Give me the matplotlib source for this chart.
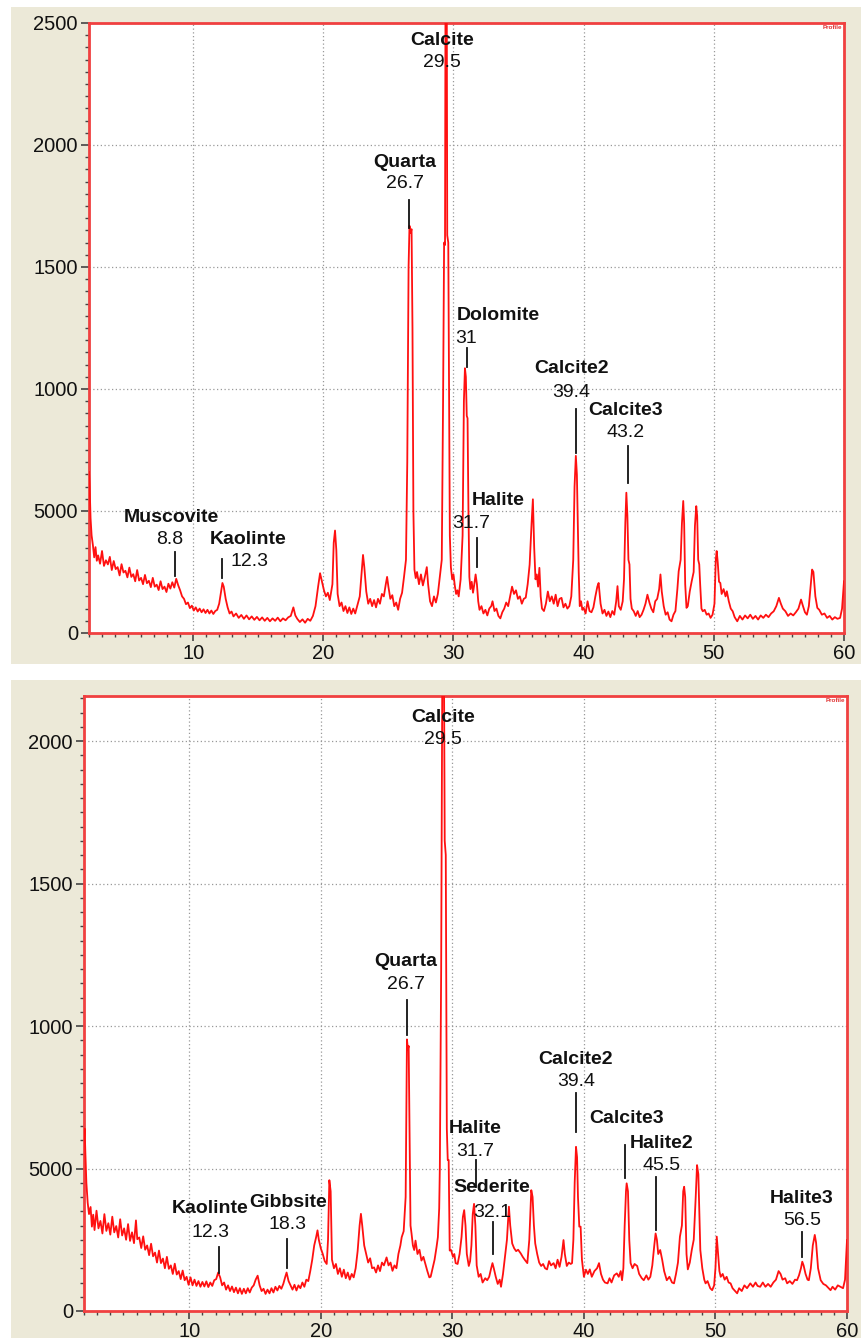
import matplotlib
matplotlib.use("Agg")
import matplotlib.pyplot as plt
from matplotlib.patches import Rectangle
from matplotlib.ticker import MultipleLocator

plt.rcParams['font.family'] = ['Liberation Sans', 'DejaVu Sans']

# ---- sample 1 (upper pattern) ----
tth_a = [2.0, 2.05, 2.12, 2.2, 2.3, 2.4, 2.5, 2.6, 2.7, 2.85, 3.0, 3.15, 3.3, 3.45, 3.6, 3.75, 3.9, 4.05, 4.2, 4.35,
         4.5, 4.65, 4.8, 4.95, 5.1, 5.25, 5.4, 5.55, 5.7, 5.85, 6.0, 6.15, 6.3, 6.45, 6.6, 6.75, 6.9, 7.05, 7.2, 7.35,
         7.5, 7.65, 7.8, 7.95, 8.1, 8.25, 8.4, 8.55, 8.7, 8.85, 9.0, 9.15, 9.3, 9.45, 9.6, 9.75, 9.9, 10.05, 10.2, 10.35,
         10.5, 10.65, 10.8, 10.95, 11.1, 11.25, 11.4, 11.55, 11.7, 11.85, 12.0, 12.15, 12.25, 12.35, 12.5, 12.65, 12.8, 12.95, 13.1, 13.3,
         13.5, 13.7, 13.9, 14.1, 14.3, 14.5, 14.7, 14.9, 15.1, 15.3, 15.5, 15.7, 15.9, 16.1, 16.3, 16.5, 16.7, 16.9, 17.1, 17.3,
         17.5, 17.7, 17.85, 18.0, 18.2, 18.4, 18.6, 18.8, 19.0, 19.2, 19.4, 19.6, 19.75, 19.9, 20.05, 20.2, 20.35, 20.5, 20.7, 20.8,
         20.9, 21.0, 21.1, 21.25, 21.4, 21.55, 21.7, 21.85, 22.0, 22.15, 22.3, 22.45, 22.6, 22.8, 22.95, 23.05, 23.15, 23.3, 23.45, 23.6,
         23.75, 23.9, 24.05, 24.2, 24.35, 24.5, 24.65, 24.8, 24.9, 25.0, 25.15, 25.3, 25.45, 25.6, 25.75, 25.9, 26.05, 26.2, 26.35, 26.45,
         26.55, 26.62, 26.7, 26.78, 26.85, 26.92, 27.0, 27.1, 27.2, 27.35, 27.5, 27.65, 27.8, 27.95, 28.05, 28.2, 28.35, 28.5, 28.65, 28.8,
         28.95, 29.1, 29.2, 29.28, 29.35, 29.4, 29.47, 29.52, 29.6, 29.66, 29.72, 29.8, 29.9, 30.0, 30.1, 30.2, 30.3, 30.4, 30.55, 30.7,
         30.8, 30.88, 30.95, 31.02, 31.08, 31.15, 31.22, 31.3, 31.4, 31.5, 31.6, 31.7, 31.8, 31.9, 32.0, 32.15, 32.3, 32.45, 32.6, 32.75,
         32.9, 33.0, 33.15, 33.3, 33.45, 33.6, 33.75, 33.9, 34.05, 34.2, 34.35, 34.5, 34.65, 34.8, 34.95, 35.1, 35.25, 35.4, 35.55, 35.7,
         35.85, 36.0, 36.1, 36.2, 36.3, 36.4, 36.5, 36.6, 36.7, 36.8, 36.95, 37.1, 37.25, 37.4, 37.55, 37.7, 37.85, 38.0, 38.15, 38.3,
         38.45, 38.6, 38.75, 38.9, 39.05, 39.2, 39.3, 39.4, 39.48, 39.55, 39.62, 39.7, 39.8, 39.9, 40.0, 40.15, 40.3, 40.45, 40.6, 40.75,
         40.9, 41.05, 41.15, 41.3, 41.45, 41.6, 41.75, 41.9, 42.05, 42.2, 42.35, 42.5, 42.6, 42.7, 42.85, 43.0, 43.1, 43.2, 43.28, 43.36,
         43.44, 43.52, 43.6, 43.7, 43.85, 44.0, 44.15, 44.3, 44.45, 44.6, 44.75, 44.9, 45.05, 45.2, 45.35, 45.5, 45.65, 45.8, 45.9, 46.0,
         46.15, 46.3, 46.45, 46.6, 46.75, 46.9, 47.05, 47.2, 47.3, 47.45, 47.55, 47.65, 47.72, 47.8, 47.9, 48.0, 48.15, 48.3, 48.45, 48.55,
         48.65, 48.72, 48.8, 48.88, 48.95, 49.05, 49.15, 49.3, 49.45, 49.6, 49.75, 49.9, 50.05, 50.15, 50.22, 50.3, 50.4, 50.5, 50.6, 50.75,
         50.9, 51.0, 51.15, 51.3, 51.45, 51.6, 51.8, 52.0, 52.2, 52.4, 52.6, 52.8, 53.0, 53.2, 53.4, 53.6, 53.8, 54.0, 54.2, 54.4,
         54.6, 54.8, 55.0, 55.15, 55.3, 55.5, 55.7, 55.9, 56.1, 56.3, 56.5, 56.7, 56.85, 57.0, 57.15, 57.3, 57.45, 57.55, 57.65, 57.8,
         57.95, 58.1, 58.3, 58.5, 58.7, 58.9, 59.1, 59.3, 59.5, 59.7, 59.85, 60.0]
cps_a = [660, 600, 470, 400, 360, 310, 352, 296, 318, 284, 336, 275, 298, 281, 312, 258, 295, 262, 270, 236,
         282, 248, 255, 228, 268, 230, 241, 212, 258, 215, 226, 200, 238, 204, 214, 188, 226, 190, 198, 176,
         212, 180, 190, 168, 202, 182, 208, 186, 222, 196, 175, 150, 140, 118, 125, 102, 112, 92, 105, 88,
         100, 85, 97, 82, 95, 80, 92, 78, 90, 95, 120, 170, 205, 190, 140, 105, 80, 88, 68, 80,
         62, 74, 58, 72, 56, 68, 54, 66, 52, 64, 50, 62, 48, 60, 50, 63, 48, 60, 52, 64,
         70, 105, 72, 58, 45, 56, 42, 58, 50, 70, 110, 190, 245, 210, 175, 150, 165, 135, 200, 370,
         420, 340, 160, 110, 125, 90, 110, 82, 105, 78, 100, 80, 110, 150, 250, 320, 270, 170, 120, 140,
         110, 135, 105, 140, 120, 160, 150, 200, 230, 190, 140, 155, 110, 125, 95, 140, 165, 230, 300, 700,
         1500, 1669, 1640, 1655, 1250, 500, 260, 225, 250, 200, 240, 195, 230, 270, 200, 130, 110, 150, 125, 160,
         230, 300, 950, 1600, 1590, 3000, 3000, 1630, 1600, 1000, 400, 270, 220, 240, 195, 160, 175, 150, 220, 400,
         950, 1085, 1050, 890, 880, 500, 230, 180, 210, 165, 200, 240, 200, 130, 95, 110, 80, 95, 72, 100,
         110, 130, 90, 100, 70, 60, 85, 100, 125, 110, 150, 190, 160, 175, 140, 150, 120, 140, 145, 200,
         280, 450, 548, 350, 220, 240, 190, 267, 150, 100, 90, 120, 170, 130, 150, 120, 157, 110, 140, 144,
         105, 120, 100, 110, 150, 300, 600, 726, 650, 459, 250, 110, 130, 95, 103, 80, 130, 90, 85, 105,
         150, 190, 205, 120, 80, 95, 70, 88, 65, 90, 75, 130, 192, 110, 95, 130, 220, 450, 575, 480,
         300, 281, 140, 100, 89, 70, 90, 65, 75, 95, 120, 157, 125, 100, 85, 130, 140, 180, 240, 170,
         110, 75, 85, 55, 48, 75, 90, 180, 253, 300, 450, 541, 450, 200, 103, 110, 170, 212, 250, 440,
         520, 480, 300, 281, 200, 100, 89, 95, 75, 80, 62, 75, 120, 300, 336, 290, 210, 205, 160, 180,
         150, 171, 130, 100, 89, 65, 48, 70, 55, 72, 60, 75, 58, 70, 55, 72, 62, 75, 65, 80,
         89, 110, 144, 120, 100, 89, 70, 80, 72, 85, 100, 137, 110, 85, 75, 110, 200, 260, 250, 150,
         103, 95, 75, 80, 62, 70, 55, 65, 58, 62, 100, 212]

# ---- sample 2 (lower pattern) ----
tth_b = [2.0, 2.05, 2.1, 2.18, 2.28, 2.38, 2.5, 2.6, 2.7, 2.8, 2.95, 3.1, 3.25, 3.4, 3.55, 3.7, 3.85, 4.0, 4.15, 4.3,
         4.45, 4.6, 4.75, 4.9, 5.05, 5.2, 5.35, 5.5, 5.65, 5.8, 5.95, 6.05, 6.2, 6.35, 6.5, 6.65, 6.8, 6.95, 7.1, 7.25,
         7.4, 7.55, 7.7, 7.85, 8.0, 8.15, 8.3, 8.45, 8.6, 8.75, 8.9, 9.05, 9.2, 9.35, 9.5, 9.65, 9.8, 9.95, 10.1, 10.25,
         10.4, 10.55, 10.7, 10.85, 11.0, 11.15, 11.3, 11.45, 11.6, 11.75, 11.9, 12.05, 12.2, 12.35, 12.5, 12.65, 12.8, 12.95, 13.1, 13.25,
         13.4, 13.55, 13.7, 13.85, 14.0, 14.15, 14.3, 14.45, 14.6, 14.75, 14.9, 15.05, 15.2, 15.35, 15.5, 15.65, 15.8, 15.95, 16.1, 16.25,
         16.4, 16.55, 16.7, 16.85, 17.0, 17.15, 17.3, 17.4, 17.55, 17.7, 17.85, 18.0, 18.15, 18.3, 18.45, 18.6, 18.75, 18.9, 19.05, 19.2,
         19.35, 19.5, 19.65, 19.75, 19.85, 20.0, 20.15, 20.3, 20.45, 20.55, 20.65, 20.75, 20.85, 21.0, 21.15, 21.3, 21.45, 21.6, 21.75, 21.9,
         22.05, 22.2, 22.35, 22.5, 22.65, 22.8, 22.95, 23.05, 23.15, 23.3, 23.45, 23.6, 23.75, 23.9, 24.05, 24.2, 24.35, 24.5, 24.65, 24.8,
         25.0, 25.15, 25.3, 25.45, 25.6, 25.75, 25.9, 26.05, 26.15, 26.3, 26.45, 26.55, 26.62, 26.68, 26.75, 26.82, 26.9, 27.0, 27.1, 27.2,
         27.35, 27.5, 27.65, 27.8, 27.95, 28.1, 28.25, 28.35, 28.5, 28.65, 28.8, 28.9, 29.0, 29.05, 29.15, 29.25, 29.35, 29.42, 29.5, 29.58,
         29.65, 29.72, 29.8, 29.9, 30.05, 30.15, 30.25, 30.4, 30.55, 30.7, 30.8, 30.9, 31.0, 31.1, 31.25, 31.35, 31.45, 31.55, 31.65, 31.75,
         31.85, 32.0, 32.15, 32.3, 32.5, 32.65, 32.8, 32.95, 33.05, 33.15, 33.3, 33.45, 33.6, 33.7, 33.85, 34.0, 34.15, 34.3, 34.4, 34.55,
         34.7, 34.85, 35.0, 35.2, 35.35, 35.5, 35.7, 35.85, 36.0, 36.1, 36.2, 36.3, 36.45, 36.6, 36.75, 36.9, 37.05, 37.2, 37.35, 37.5,
         37.7, 37.85, 38.0, 38.15, 38.3, 38.45, 38.55, 38.7, 38.85, 39.0, 39.1, 39.2, 39.3, 39.4, 39.48, 39.55, 39.65, 39.75, 39.85, 40.0,
         40.15, 40.3, 40.45, 40.6, 40.8, 41.0, 41.15, 41.3, 41.45, 41.6, 41.8, 41.95, 42.1, 42.3, 42.5, 42.65, 42.8, 42.9, 43.0, 43.1,
         43.2, 43.25, 43.35, 43.45, 43.55, 43.7, 43.85, 44.05, 44.2, 44.4, 44.55, 44.75, 44.9, 45.05, 45.2, 45.35, 45.45, 45.55, 45.65, 45.8,
         45.95, 46.1, 46.3, 46.5, 46.7, 46.85, 47.0, 47.15, 47.3, 47.45, 47.55, 47.62, 47.7, 47.8, 47.9, 48.05, 48.2, 48.35, 48.5, 48.6,
         48.7, 48.8, 48.85, 49.0, 49.15, 49.25, 49.4, 49.6, 49.75, 49.9, 50.0, 50.1, 50.2, 50.3, 50.4, 50.55, 50.7, 50.85, 51.0, 51.15,
         51.3, 51.5, 51.65, 51.8, 52.0, 52.2, 52.4, 52.65, 52.85, 53.05, 53.2, 53.4, 53.6, 53.8, 54.0, 54.2, 54.4, 54.6, 54.8, 54.95,
         55.1, 55.3, 55.45, 55.65, 55.85, 56.05, 56.2, 56.35, 56.5, 56.6, 56.7, 56.85, 57.0, 57.1, 57.25, 57.4, 57.55, 57.65, 57.8, 58.0,
         58.2, 58.4, 58.6, 58.75, 58.9, 59.1, 59.3, 59.5, 59.7, 59.85, 60.0]
cps_b = [600, 640, 560, 450, 380, 340, 365, 296, 338, 284, 352, 290, 316, 272, 340, 281, 308, 268, 331, 276,
         298, 258, 322, 265, 290, 250, 305, 246, 276, 238, 318, 252, 258, 221, 262, 215, 230, 196, 236, 192,
         205, 170, 212, 168, 184, 150, 190, 148, 160, 130, 166, 128, 140, 112, 142, 108, 120, 92, 118, 90,
         110, 88, 105, 85, 102, 86, 104, 84, 100, 88, 108, 112, 135, 118, 90, 100, 75, 90, 70, 86,
         66, 82, 62, 80, 60, 78, 62, 80, 65, 82, 90, 110, 124, 90, 70, 78, 60, 75, 62, 80,
         65, 85, 72, 88, 78, 95, 120, 135, 105, 90, 75, 92, 72, 90, 80, 100, 85, 110, 105, 140,
         180, 230, 260, 283, 250, 220, 200, 175, 165, 250, 459, 420, 180, 150, 165, 130, 150, 120, 145, 115,
         135, 110, 130, 118, 150, 210, 300, 341, 300, 230, 200, 170, 185, 150, 153, 135, 160, 140, 170, 160,
         188, 160, 170, 141, 160, 150, 200, 230, 259, 280, 400, 953, 918, 930, 600, 300, 271, 230, 214, 247,
         200, 215, 177, 190, 165, 140, 118, 120, 150, 180, 225, 259, 360, 506, 1200, 2400, 2400, 1650, 1600, 640,
         530, 530, 212, 214, 190, 200, 168, 165, 200, 260, 330, 354, 300, 200, 158, 175, 230, 340, 376, 300,
         160, 120, 130, 100, 115, 108, 120, 150, 168, 150, 120, 95, 110, 85, 130, 190, 250, 366, 300, 237,
         220, 210, 215, 202, 190, 180, 168, 250, 424, 400, 300, 237, 200, 170, 158, 165, 150, 146, 175, 160,
         168, 150, 180, 155, 190, 249, 200, 158, 170, 165, 168, 250, 450, 576, 540, 400, 296, 296, 180, 120,
         145, 130, 146, 120, 140, 150, 168, 130, 110, 100, 97, 115, 100, 125, 132, 120, 140, 108, 150, 300,
         420, 448, 420, 250, 168, 150, 165, 158, 130, 115, 108, 125, 110, 120, 160, 230, 272, 250, 200, 214,
         180, 140, 108, 120, 100, 97, 130, 170, 261, 300, 420, 436, 400, 200, 146, 170, 214, 250, 400, 512,
         480, 300, 214, 150, 110, 97, 105, 80, 73, 90, 150, 261, 200, 140, 120, 130, 110, 120, 100, 97,
         80, 70, 62, 80, 70, 90, 80, 97, 85, 100, 88, 85, 100, 85, 95, 85, 100, 110, 140, 130,
         110, 115, 97, 105, 95, 110, 108, 125, 150, 173, 160, 130, 110, 108, 150, 230, 267, 240, 150, 108,
         95, 90, 80, 73, 85, 75, 90, 85, 80, 110, 249]

# peak labels: (phase, 2-theta text)
labels_a = [("Calcite", "29.5"), ("Quarta", "26.7"), ("Dolomite", "31"), ("Calcite2", "39.4"),
            ("Calcite3", "43.2"), ("Halite", "31.7"), ("Muscovite", "8.8"), ("Kaolinte", "12.3")]
labels_b = [("Calcite", "29.5"), ("Quarta", "26.7"), ("Calcite2", "39.4"), ("Calcite3", ""),
            ("Halite2", "45.5"), ("Halite", "31.7"), ("Sederite", "32.1"), ("Halite3", "56.5"),
            ("Kaolinte", "12.3"), ("Gibbsite", "18.3")]

y_ticks_a = [0, 500, 1000, 1500, 2000, 2500]
y_labels_a = ["0", "5000", "1000", "1500", "2000", "2500"]
y_ticks_b = [0, 500, 1000, 1500, 2000]
y_labels_b = ["0", "5000", "1000", "1500", "2000"]
x_ticks = [10, 20, 30, 40, 50, 60]

# label layout: name x, name y, name ha, number x, number y, marker x, marker y0, marker y1
layout_a = [(29.15, 2430, 'center', 29.15, 2340, None, None, None),
            (26.25, 1930, 'center', 26.3, 1844, 26.55, 1775, 1660),
            (30.25, 1303, 'left', 31.0, 1209, 31.0, 1168, 1090),
            (39.08, 1082, 'center', 39.08, 984, 39.38, 918, 738),
            (43.23, 910, 'center', 43.23, 820, 43.38, 766, 615),
            (31.38, 541, 'left', 31.38, 447, 31.77, 389, 270),
            (8.31, 475, 'center', 8.23, 385, 8.62, 332, 234),
            (14.23, 385, 'center', 14.31, 291, 12.23, 303, 225)]
layout_b = [(29.28, 2081, 'center', 29.28, 2004, None, None, None),
            (26.47, 1225, 'center', 26.47, 1144, 26.54, 1091, 968),
            (39.39, 881, 'center', 39.39, 804, 39.39, 765, 628),
            (43.26, 677, 'center', 43.26, 0, 43.11, 582, 467),
            (45.92, 589, 'center', 45.92, 512, 45.47, 470, 284),
            (31.71, 642, 'center', 31.71, 558, 31.79, 530, 435),
            (33.0, 432, 'center', 33.0, 347, 33.08, 312, 200),
            (56.56, 396, 'center', 56.56, 316, 56.56, 277, 189),
            (11.57, 358, 'center', 11.65, 274, 12.26, 225, 133),
            (17.5, 382, 'center', 17.5, 302, 17.43, 253, 151)]

W, H = 861, 1338
fig = plt.figure(figsize=(W / 100, H / 100), dpi=100)
fig.patch.set_facecolor('white')
beige = '#ECE9D8'
fig.patches.append(Rectangle((11 / W, 1 - 664 / H), 850 / W, 657 / H, transform=fig.transFigure,
                             facecolor=beige, edgecolor='none', zorder=-5))
fig.patches.append(Rectangle((11 / W, 0), 850 / W, 1 - 680 / H, transform=fig.transFigure,
                             facecolor=beige, edgecolor='none', zorder=-5))

ax1 = fig.add_axes([89 / W, 1 - 633 / H, 755 / W, 610 / H], zorder=2)
ax2 = fig.add_axes([84 / W, 1 - 1311 / H, 763 / W, 615 / H], zorder=2)


def style(ax, tth, cps, ymax, yticks, ylabels, labels, layout):
    ax.set_facecolor('white')
    ax.plot(tth, cps, color='#ff1010', lw=1.3, zorder=3)
    ax.set_xlim(2, 60)
    ax.set_ylim(0, ymax)
    ax.set_xticks(x_ticks)
    ax.set_yticks(yticks)
    ax.set_yticklabels(ylabels)
    ax.xaxis.set_minor_locator(MultipleLocator(1))
    ax.yaxis.set_minor_locator(MultipleLocator(50))
    ax.tick_params(which='both', direction='out', color='#444444', top=False, right=False)
    ax.tick_params(which='major', length=6, width=1.2, labelsize=14.5, labelcolor='#111111', pad=2)
    ax.tick_params(which='minor', length=3, width=1)
    ax.grid(True, which='major', linestyle=(0, (1, 2)), color='#999999', lw=0.9)
    for s in ax.spines.values():
        s.set_color('#f04040')
        s.set_linewidth(2)
    ax.text(0.998, 0.997, 'Profile', transform=ax.transAxes, ha='right', va='top',
            fontsize=4.5, color='#e03030', fontweight='bold')
    for (name, num), (nx, ny, ha, mx, my, lx, ly0, ly1) in zip(labels, layout):
        ax.text(nx, ny, name, ha=ha, va='center', fontsize=14, fontweight='bold', color='#111111', zorder=4)
        if num:
            ax.text(mx, my, num, ha='center', va='center', fontsize=14, color='#111111', zorder=4)
        if lx is not None:
            ax.plot([lx, lx], [ly0, ly1], color='#111111', lw=1.3, zorder=4)


style(ax1, tth_a, cps_a, 2500, y_ticks_a, y_labels_a, labels_a, layout_a)
style(ax2, tth_b, cps_b, 2158, y_ticks_b, y_labels_b, labels_b, layout_b)

fig.savefig('out.png', dpi=100, facecolor=fig.get_facecolor())
